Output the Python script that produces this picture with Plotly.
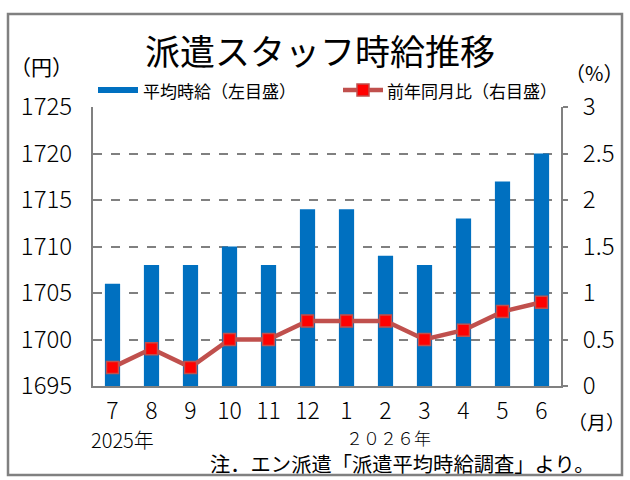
import plotly.graph_objects as go

months = ["7", "8", "9", "10", "11", "12", "1", "2", "3", "4", "5", "6"]
wage = [1706, 1708, 1708, 1710, 1708, 1714, 1714, 1709, 1708, 1713, 1717, 1720]
yoy = [0.2, 0.4, 0.2, 0.5, 0.5, 0.7, 0.7, 0.7, 0.5, 0.6, 0.8, 0.9]
left_ticks = [1695, 1700, 1705, 1710, 1715, 1720, 1725]
right_ticks = [0, 0.5, 1, 1.5, 2, 2.5, 3]
right_tick_text = ["0", "0.5", "1", "1.5", "2", "2.5", "3"]

FONT = "Noto Sans CJK JP"
BLUE = "#0070C0"
LINE = "#C0504D"
MARK = "#FF0000"
GREY = "#808080"

W, H = 630, 480
L, R, T, B = 93, 561, 107, 386


def px(x):
    return (x - L) / (R - L)


def py(y):
    return (B - y) / (B - T)


x_idx = list(range(len(months)))

fig = go.Figure()
fig.add_trace(go.Bar(
    x=x_idx, y=wage, marker_color=BLUE, marker_line_width=0,
    name="平均時給（左目盛）", showlegend=False,
))
fig.add_trace(go.Scatter(
    x=x_idx, y=yoy, yaxis="y2", mode="lines+markers",
    line=dict(color=LINE, width=4.5),
    marker=dict(symbol="square", size=12, color=MARK, line=dict(color=LINE, width=1.5)),
    name="前年同月比（右目盛）", showlegend=False,
))

tick_font = dict(size=23, family=FONT, weight=300, color="black")

fig.update_layout(
    width=W, height=H,
    margin=dict(l=L, r=W - R, t=T, b=H - B),
    paper_bgcolor="white", plot_bgcolor="white",
    font=dict(family=FONT, color="black"),
    bargap=0.61,
    xaxis=dict(
        tickmode="array", tickvals=x_idx, ticktext=months,
        range=[-0.5, len(months) - 0.5],
        showline=True, linecolor=GREY, linewidth=2,
        showgrid=False, ticks="", tickfont=tick_font,
        ticklabelstandoff=3,
    ),
    yaxis=dict(
        range=[1695, 1725], tickmode="array", tickvals=left_ticks,
        showgrid=True, gridcolor=GREY, griddash="dash", gridwidth=1.5,
        showline=True, linecolor=GREY, linewidth=2, zeroline=False,
        ticks="", tickfont=dict(tick_font, size=24), ticklabelstandoff=14,
    ),
    yaxis2=dict(
        range=[0, 3], overlaying="y", side="right",
        tickmode="array", tickvals=right_ticks, ticktext=right_tick_text,
        showgrid=False, showline=True, linecolor=GREY, linewidth=2,
        zeroline=False, ticks="outside", ticklen=5, tickcolor=GREY, tickwidth=1.5,
        tickfont=dict(tick_font, size=24), ticklabelstandoff=10,
    ),
)

shapes = [
    # outer frame
    dict(type="rect", xref="paper", yref="paper",
         x0=px(8), x1=px(622), y0=py(475), y1=py(14),
         line=dict(color=GREY, width=2.5), fillcolor="rgba(0,0,0,0)", layer="below"),
    # legend symbols
    dict(type="line", xref="paper", yref="paper",
         x0=px(98), x1=px(138), y0=py(90), y1=py(90),
         line=dict(color=BLUE, width=6)),
    dict(type="line", xref="paper", yref="paper",
         x0=px(343), x1=px(383), y0=py(90), y1=py(90),
         line=dict(color=LINE, width=4.5)),
    dict(type="rect", xref="paper", yref="paper",
         x0=px(357), x1=px(369), y0=py(96), y1=py(84),
         fillcolor=MARK, line=dict(color=LINE, width=1.5)),
]
fig.update_layout(shapes=shapes)


def ann(text, x, y, size, xanchor="left", weight=400):
    fig.add_annotation(text=text, x=px(x), y=py(y), xref="paper", yref="paper",
                       xanchor=xanchor, yanchor="middle", showarrow=False,
                       font=dict(size=size, family=FONT, color="black", weight=weight))


ann("派遣スタッフ時給推移", 320, 50, 35, "center")
ann("（円）", 8, 66, 21)
ann("（%）", 563, 73, 20)
ann("平均時給（左目盛）", 141, 90, 17)
ann("前年同月比（右目盛）", 385, 90, 17)
ann("（月）", 566, 421, 19)
ann("2025年", 89, 439, 20, weight=300)
ann("２０２６年", 344, 437, 17, weight=300)
ann("注．エン派遣「派遣平均時給調査」より。", 208, 463, 20.3)

fig.write_html("out.html")
